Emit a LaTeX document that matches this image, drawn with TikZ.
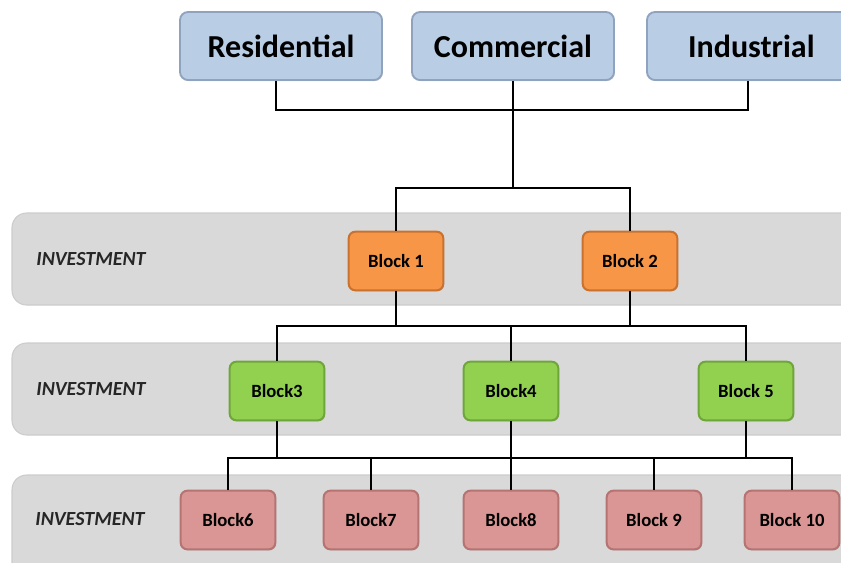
\documentclass[tikz,border=0pt]{standalone}
\usepackage{fontspec}
\setmainfont{Carlito}
\usepackage{tikz}
\usetikzlibrary{shadows}
\usepackage{color}

\definecolor{topfill}{HTML}{B9CDE5}
\definecolor{topline}{HTML}{8FA3BE}
\definecolor{orangefill}{HTML}{F79646}
\definecolor{orangeline}{HTML}{C9722F}
\definecolor{greenfill}{HTML}{92D050}
\definecolor{greenline}{HTML}{6FA63C}
\definecolor{redfill}{HTML}{D99694}
\definecolor{redline}{HTML}{B57371}
\definecolor{bandfill}{HTML}{D9D9D9}
\definecolor{bandline}{HTML}{CCCCCC}
\definecolor{leveltext}{HTML}{262626}

\tikzset{
	sectorbox/.style={draw=topline,fill=topfill,line width=1.4pt,rounded corners=6pt,
		minimum width=151.5pt,minimum height=51pt,
		drop shadow={shadow xshift=0.6pt,shadow yshift=-0.8pt,opacity=0.35},
		font=\fontsize{24}{28}\selectfont\bfseries},
	blockbox/.style={line width=1.5pt,rounded corners=5pt,
		minimum width=71pt,minimum height=44pt,
		drop shadow={shadow xshift=0.6pt,shadow yshift=-0.8pt,opacity=0.35},
		font=\fontsize{14}{16}\selectfont\bfseries},
	orangebox/.style={blockbox,draw=orangeline,fill=orangefill},
	greenbox/.style={blockbox,draw=greenline,fill=greenfill},
	redbox/.style={blockbox,draw=redline,fill=redfill},
	bandbox/.style={fill=bandfill,draw=bandline,line width=0.8pt,rounded corners=11pt},
	levellabel/.style={text=leveltext,font=\fontsize{15}{18}\selectfont\bfseries\itshape},
	link/.style={line width=2.1pt}
}

\begin{document}
\begin{tikzpicture}[x=0.75pt,y=-0.75pt]
	\useasboundingbox (0,0) rectangle (841,562);
	\clip (0,0) rectangle (841,562);

	\filldraw[bandbox] (12,213) rectangle (880,305);
	\filldraw[bandbox] (12,343) rectangle (880,435);
	\filldraw[bandbox] (12,475) rectangle (880,600);
	\node[levellabel] (inv1) at (91,259) {INVESTMENT};
	\node[levellabel] (inv2) at (91,389) {INVESTMENT};
	\node[levellabel] (inv3) at (90,519) {INVESTMENT};

	\node[sectorbox] (res) at (281,46) {Residential};
	\node[sectorbox] (com) at (513,46) {Commercial};
	\node[sectorbox] (ind) at (748,46) {\hspace*{5pt}Industrial};

	\node[orangebox] (b1) at (396,261) {Block 1};
	\node[orangebox] (b2) at (630,261) {Block 2};

	\node[greenbox] (b3) at (277,391) {Block3};
	\node[greenbox] (b4) at (511,391) {Block4};
	\node[greenbox] (b5) at (746,391) {Block 5};

	\node[redbox] (b6) at (228,520) {Block6};
	\node[redbox] (b7) at (371,520) {Block7};
	\node[redbox] (b8) at (511,520) {Block8};
	\node[redbox] (b9) at (654,520) {Block 9};
	\node[redbox] (b10) at (792,520) {Block 10};

	\coordinate (top) at (com.south |- 0,110);
	\coordinate (split) at (com.south |- 0,188);
	\coordinate (mid) at (b4.north |- 0,326);
	\coordinate (low) at (b8.north |- 0,458);

	\draw[link] (res.south) ++(-5,0) |- (top) -| (ind.south);
	\draw[link] (com.south) -- (split);
	\draw[link] (b1.north) |- (split) -| (b2.north);

	\draw[link] (b3.north) |- (mid) -| (b5.north);
	\draw[link] (b4.north) -- (mid);
	\draw[link] (b1.south) -- (b1.south |- mid);
	\draw[link] (b2.south) -- (b2.south |- mid);

	\draw[link] (b6.north) |- (low) -| (b10.north);
	\draw[link] (b4.south) -- (b8.north);
	\draw[link] (b3.south) -- (b3.south |- low);
	\draw[link] (b5.south) -- (b5.south |- low);
	\draw[link] (b7.north) -- (b7.north |- low);
	\draw[link] (b9.north) -- (b9.north |- low);
\end{tikzpicture}
\end{document}
